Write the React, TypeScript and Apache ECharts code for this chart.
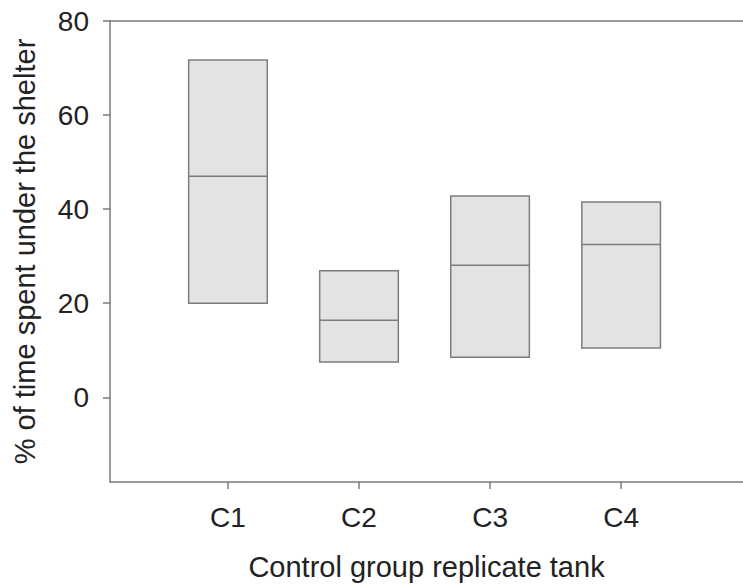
import React, { useEffect, useRef } from "react";
import * as echarts from "echarts";

const categories = ["C1", "C2", "C3", "C4"];
const positions = [1, 2, 3, 4];
const q1Values = [20, 7.5, 8.5, 10.5];
const medianValues = [47, 16.4, 28.1, 32.5];
const q3Values = [71.7, 26.9, 42.8, 41.5];
const yTicks = [0, 20, 40, 60, 80];

const BOX_HALF = 0.3;
const AXIS_COLOR = "#7a7a7a";
const TEXT_COLOR = "#222";
const FONT = "Liberation Sans, Arial, sans-serif";

export default function App() {
  const ref = useRef<HTMLDivElement>(null);
  useEffect(() => {
    if (!ref.current) return;
    const chart = echarts.init(ref.current, null, { renderer: "svg" });
    const data = positions.map((p, i) => [p, q1Values[i], medianValues[i], q3Values[i]]);
    chart.setOption({
      animation: false,
      backgroundColor: "#fff",
      grid: { left: 110, right: 0, top: 21, bottom: 104 },
      xAxis: [
        {
          type: "value",
          min: 0.1,
          max: 4.93,
          position: "bottom",
          name: "Control group replicate tank",
          nameLocation: "middle",
          nameGap: 70,
          nameTextStyle: { fontSize: 29, color: TEXT_COLOR, fontFamily: FONT },
          axisLine: { show: true, onZero: false, lineStyle: { color: AXIS_COLOR, width: 1.5 } },
          axisTick: { show: true, length: 7, customValues: positions, lineStyle: { color: AXIS_COLOR, width: 1.5 } },
          axisLabel: {
            show: true,
            customValues: positions,
            margin: 21,
            fontSize: 28,
            color: TEXT_COLOR,
            fontFamily: FONT,
            formatter: (v: number) => {
              const idx = positions.indexOf(Math.round(v));
              return idx >= 0 ? categories[idx] : "";
            },
          },
          splitLine: { show: false },
        },
        {
          type: "value",
          min: 0.1,
          max: 4.93,
          position: "top",
          axisLine: { show: true, onZero: false, lineStyle: { color: AXIS_COLOR, width: 1.5 } },
          axisTick: { show: false },
          axisLabel: { show: false },
          splitLine: { show: false },
        },
      ],
      yAxis: {
        type: "value",
        min: -18,
        max: 80,
        name: "% of time spent under the shelter",
        nameLocation: "middle",
        nameGap: 71,
        nameTextStyle: { fontSize: 29, color: TEXT_COLOR, fontFamily: FONT },
        axisLine: { show: true, onZero: false, lineStyle: { color: AXIS_COLOR, width: 1.5 } },
        axisTick: { show: true, length: 7, customValues: yTicks, lineStyle: { color: AXIS_COLOR, width: 1.5 } },
        axisLabel: {
          show: true,
          customValues: yTicks,
          margin: 21,
          fontSize: 28,
          color: TEXT_COLOR,
          fontFamily: FONT,
        },
        splitLine: { show: false },
      },
      series: [
        {
          type: "custom",
          xAxisIndex: 0,
          yAxisIndex: 0,
          data,
          renderItem: (params: any, api: any) => {
            const x = api.value(0);
            const lo = api.coord([x - BOX_HALF, api.value(1)]);
            const hi = api.coord([x + BOX_HALF, api.value(3)]);
            const med = api.coord([x, api.value(2)]);
            return {
              type: "group",
              children: [
                {
                  type: "rect",
                  shape: { x: lo[0], y: hi[1], width: hi[0] - lo[0], height: lo[1] - hi[1] },
                  style: { fill: "#e3e2e5", stroke: "#7d7d7d", lineWidth: 1.5 },
                },
                {
                  type: "line",
                  shape: { x1: lo[0], y1: med[1], x2: hi[0], y2: med[1] },
                  style: { stroke: "#7d7d7d", lineWidth: 1.5 },
                },
              ],
            };
          },
        },
      ],
    });
    return () => chart.dispose();
  }, []);
  return (
    <div
      ref={ref}
      style={{ position: "fixed", left: 0, top: 0, width: 743, height: 586 }}
    />
  );
}
